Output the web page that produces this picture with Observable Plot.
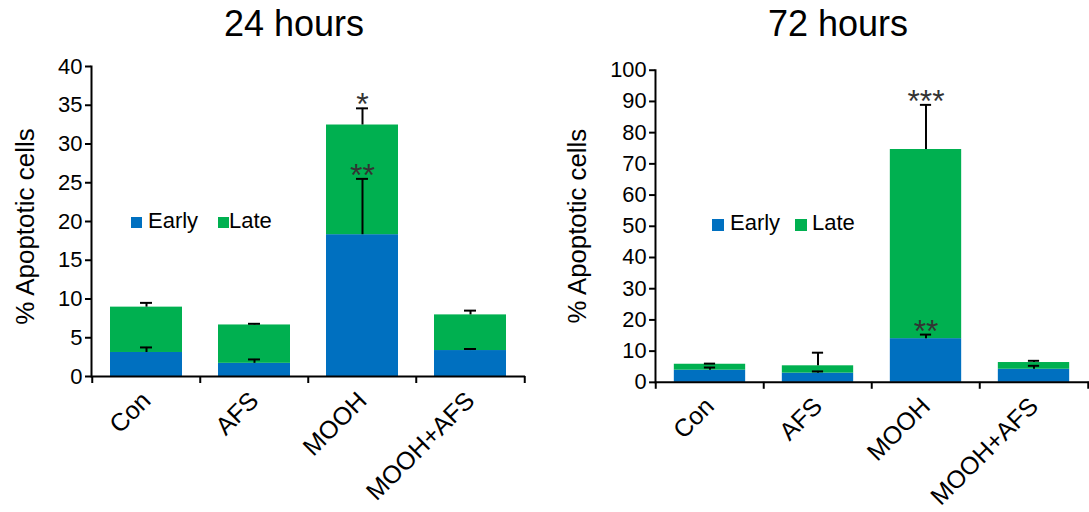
<!DOCTYPE html>
<html>
<head>
<meta charset="utf-8">
<script src="https://cdn.jsdelivr.net/npm/d3@7"></script>
<script src="https://cdn.jsdelivr.net/npm/@observablehq/plot@0.6"></script>
<style>
  body { margin: 0; background: #fff; font-family: "Liberation Sans", Arial, sans-serif; }
  #wrap { position: relative; width: 1089px; height: 512px; overflow: hidden; background: #fff; }
  .title { position: absolute; top: 6px; width: 240px; text-align: center; font-size: 36px; line-height: 36px; color: #000; }
  .panel { position: absolute; top: 40px; }
  .lg { position: absolute; font-size: 22px; line-height: 22px; color: #000; white-space: nowrap; }
  .sw { position: absolute; width: 11px; height: 11px; }
</style>
</head>
<body>
<div id="wrap">
  <div class="title" style="left:174px">24 hours</div>
  <div class="title" style="left:718px">72 hours</div>
  <div id="p24" class="panel" style="left:0px"></div>
  <div id="p72" class="panel" style="left:545px"></div>
</div>
<script>
// ---- data ----
const categories = ["Con", "AFS", "MOOH", "MOOH+AFS"];
const stages = ["Early", "Late"];
const stageColors = ["#0070C0", "#00B050"];

// 24 hours
const early24 = [3.1, 1.7, 18.3, 3.35];
const late24 = [5.85, 4.95, 14.15, 4.6];
const earlyErr24 = [0.65, 0.5, 7.2, 0.2];
const lateErr24 = [0.55, 0.15, 2.15, 0.55];
const yTicks24 = [0, 5, 10, 15, 20, 25, 30, 35, 40];
const sig24 = [{cat: "MOOH", stage: "Early", label: "**"}, {cat: "MOOH", stage: "Late", label: "*"}];

// 72 hours
const early72 = [3.9, 2.95, 14.0, 4.2];
const late72 = [1.9, 2.35, 60.6, 2.15];
const earlyErr72 = [0.85, 0.55, 1.3, 1.1];
const lateErr72 = [0.2, 4.2, 14.3, 0.55];
const yTicks72 = [0, 10, 20, 30, 40, 50, 60, 70, 80, 90, 100];
const sig72 = [{cat: "MOOH", stage: "Early", label: "**"}, {cat: "MOOH", stage: "Late", label: "***"}];

const yLabel = "% Apoptotic cells";
const FONT = "'Liberation Sans', Arial, sans-serif";

function panel({early, late, earlyErr, lateErr, yTicks, sig, width, mt, mb, ml, mr, labelDx, labelDy}) {
  const rows = [];
  categories.forEach((c, i) => {
    rows.push({cat: c, stage: "Early", v: early[i]});
    rows.push({cat: c, stage: "Late", v: late[i]});
  });
  const errs = categories.flatMap((c, i) => [
    {cat: c, stage: "Early", y1: early[i], y2: early[i] + earlyErr[i]},
    {cat: c, stage: "Late", y1: early[i] + late[i], y2: early[i] + late[i] + lateErr[i]}
  ]);
  const sigRows = sig.map(s => ({...s, y: errs.find(e => e.cat === s.cat && e.stage === s.stage).y2}));
  const pInner = 0.336;
  const step = (width - ml - mr) / categories.length;
  const bw = step * (1 - pInner);
  const capInset = (bw - 12) / 2;
  const n = categories.length;
  return Plot.plot({
    width, height: 472,
    marginTop: mt, marginBottom: mb, marginLeft: ml, marginRight: mr,
    style: {fontFamily: FONT, fontSize: "22px", color: "#000", background: "transparent", overflow: "visible"},
    x: {domain: categories, paddingInner: pInner, paddingOuter: pInner / 2, label: null},
    y: {domain: [0, yTicks[yTicks.length - 1]], label: null},
    color: {domain: stages, range: stageColors},
    marks: [
      Plot.barY(rows, {x: "cat", y: "v", fill: "stage"}),
      Plot.ruleX(errs, {x: "cat", y1: "y1", y2: "y2", stroke: "#000", strokeWidth: 2}),
      Plot.tickY(errs, {x: "cat", y: "y2", stroke: "#000", strokeWidth: 2, insetLeft: capInset, insetRight: capInset}),
      Plot.text(sigRows, {x: "cat", y: "y", text: "label", fontSize: 32, lineAnchor: "bottom", dy: 7, fill: "#333", letterSpacing: "2px"}),
      Plot.axisY(yTicks, {tickSize: 6, tickPadding: 3, fontSize: 22, strokeWidth: 2, label: null}),
      Plot.axisX({tickSize: 0, tickRotate: -45, tickPadding: 20, fontSize: 25, label: null}),
      Plot.ruleY([0], {stroke: "#000", strokeWidth: 2}),
      Plot.frame({anchor: "left", stroke: "#000", strokeWidth: 2}),
      Plot.ruleX(categories, {x: d => d, y1: 0, y2: 0, insetBottom: -7, dx: -step / 2, stroke: "#000", strokeWidth: 2}),
      Plot.ruleX([categories[n - 1]], {x: d => d, y1: 0, y2: 0, insetBottom: -7, dx: step / 2, stroke: "#000", strokeWidth: 2}),
      Plot.text([yLabel], {text: d => d, frameAnchor: "left", textAnchor: "middle", lineAnchor: "middle", rotate: -90, dx: labelDx, dy: labelDy, fontSize: 26})
    ]
  });
}

document.getElementById("p24").appendChild(panel({
  early: early24, late: late24, earlyErr: earlyErr24, lateErr: lateErr24,
  yTicks: yTicks24, sig: sig24, width: 545, mt: 26, mb: 136, ml: 91, mr: 20, labelDx: -66, labelDy: 5
}));
document.getElementById("p72").appendChild(panel({
  early: early72, late: late72, earlyErr: earlyErr72, lateErr: lateErr72,
  yTicks: yTicks72, sig: sig72, width: 549, mt: 30, mb: 127, ml: 111, mr: 0, labelDx: -78, labelDy: 0
}));

// legends (inside each panel)
function legend(items) {
  const wrap = document.getElementById("wrap");
  items.forEach(it => {
    const sw = document.createElement("div");
    sw.className = "sw";
    sw.style.left = it.sx + "px"; sw.style.top = it.sy + "px";
    sw.style.width = it.ss + "px"; sw.style.height = it.ss + "px";
    sw.style.background = stageColors[stages.indexOf(it.stage)];
    wrap.appendChild(sw);
    const t = document.createElement("div");
    t.className = "lg";
    t.style.left = it.tx + "px"; t.style.top = it.ty + "px";
    t.textContent = it.stage;
    wrap.appendChild(t);
  });
}
legend([
  {stage: "Early", sx: 131, sy: 217, ss: 11, tx: 148, ty: 210},
  {stage: "Late", sx: 218, sy: 217, ss: 11, tx: 229, ty: 210},
  {stage: "Early", sx: 712, sy: 219, ss: 12, tx: 730, ty: 212},
  {stage: "Late", sx: 795, sy: 219, ss: 12, tx: 812, ty: 212}
]);
</script>
</body>
</html>
